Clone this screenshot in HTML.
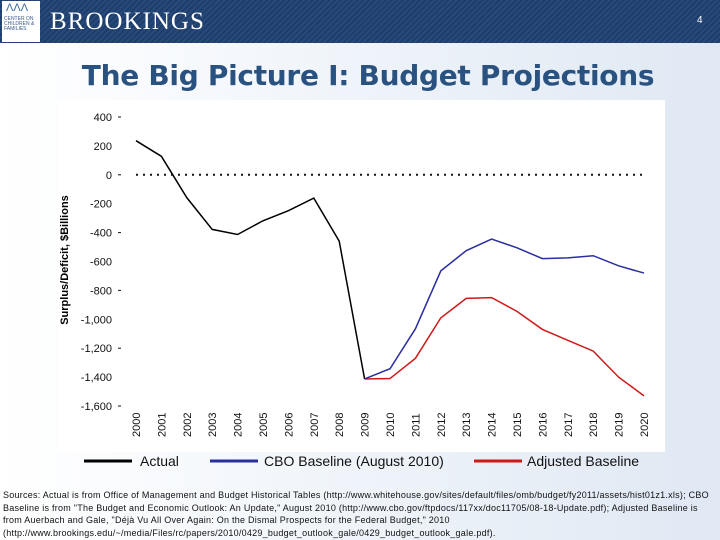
<!DOCTYPE html>
<html><head><meta charset="utf-8"><style>
body{margin:0;width:720px;height:540px;overflow:hidden;font-family:"Liberation Sans",sans-serif;background:linear-gradient(90deg,#ffffff 0%,#f2f6fb 40%,#dfe8f3 100%);position:relative}
#hdr{position:absolute;left:0;top:0;width:720px;height:43px;background:repeating-linear-gradient(135deg,#1e3d6c 0 2px,#284a7a 2px 4px)}
#logo{position:absolute;left:2px;top:1px;width:38px;height:41px;background:#fff;font-size:5px;color:#3a5a8a;line-height:5px}
#brand{position:absolute;left:50px;top:8px;font-family:"Liberation Serif",serif;font-size:25px;color:#fff;letter-spacing:1px}
#pg{position:absolute;left:697px;top:15px;font-size:10px;color:#fff}
#title{position:absolute;left:0;width:736px;top:59px;text-align:center;font-family:"DejaVu Sans",sans-serif;font-size:28px;font-weight:bold;color:#2a5280;letter-spacing:-0.3px}
#src{position:absolute;left:3px;top:489px;width:716px;font-size:9px;letter-spacing:0.25px;line-height:12.5px;color:#111}
</style></head><body>
<div id="hdr"></div>
<div id="logo"><div style="margin:5px 0 0 4px;font-size:11px;color:#3a6aa0">ΛΛΛ</div><div style="margin:6px 0 0 2px">CENTER ON<br>CHILDREN &amp;<br>FAMILIES</div></div>
<div id="brand">BROOKINGS</div>
<div id="pg">4</div>
<div id="title">The Big Picture I: Budget Projections</div>
<svg width="720" height="540" style="position:absolute;left:0;top:0" id="chart">
<rect x="58" y="100" width="607" height="352" fill="#fff"/>
<text transform="translate(68,260) rotate(-90)" text-anchor="middle" font-size="11" font-weight="bold" fill="#000">Surplus/Deficit, $Billions</text>
<g id="g"></g>
<g>
<line x1="84" y1="461" x2="132" y2="461" stroke="#000" stroke-width="3"/>
<text x="140" y="466" font-size="14" fill="#111">Actual</text>
<line x1="210" y1="461" x2="258" y2="461" stroke="#2a2ea0" stroke-width="3"/>
<text x="264" y="466" font-size="14" fill="#111">CBO Baseline (August 2010)</text>
<line x1="474" y1="461" x2="522" y2="461" stroke="#d01818" stroke-width="3"/>
<text x="527" y="466" font-size="14" fill="#111">Adjusted Baseline</text>
</g>
</svg>
<div id="src">Sources: Actual is from Office of Management and Budget Historical Tables (http://www.whitehouse.gov/sites/default/files/omb/budget/fy2011/assets/hist01z1.xls); CBO Baseline is from "The Budget and Economic Outlook: An Update," August 2010 (http://www.cbo.gov/ftpdocs/117xx/doc11705/08-18-Update.pdf); Adjusted Baseline is from Auerbach and Gale, "Déjà Vu All Over Again: On the Dismal Prospects for the Federal Budget," 2010<br>(http://www.brookings.edu/~/media/Files/rc/papers/2010/0429_budget_outlook_gale/0429_budget_outlook_gale.pdf).</div>
<script>
const years=[2000,2001,2002,2003,2004,2005,2006,2007,2008,2009,2010,2011,2012,2013,2014,2015,2016,2017,2018,2019,2020];
const actualYears=[2000,2001,2002,2003,2004,2005,2006,2007,2008,2009];
const actualVals=[236,128,-158,-378,-413,-318,-248,-161,-459,-1413];
const projYears=[2009,2010,2011,2012,2013,2014,2015,2016,2017,2018,2019,2020];
const cboVals=[-1413,-1342,-1066,-665,-525,-445,-505,-580,-575,-560,-630,-680];
const adjVals=[-1413,-1410,-1270,-990,-855,-850,-945,-1070,-1145,-1220,-1400,-1530];
const yTicks=[400,200,0,-200,-400,-600,-800,-1000,-1200,-1400,-1600];
const yTickLabels=["400","200","0","-200","-400","-600","-800","-1,000","-1,200","-1,400","-1,600"];
const NS="http://www.w3.org/2000/svg";
const g=document.getElementById('g');
function xs(yr){return 136+(yr-2000)*25.4;}
function ys(v){return 174.8-v*0.1445;}
function mk(t,a){const e=document.createElementNS(NS,t);for(const k in a)e.setAttribute(k,a[k]);g.appendChild(e);return e;}
yTicks.forEach((v,i)=>{
  const t=mk('text',{x:112,y:ys(v)+4,'text-anchor':'end','font-size':11,fill:'#111'});
  t.textContent=yTickLabels[i];
  
  
  if(i%2===0){const l=mk('line',{x1:118,x2:121,y1:ys(v),y2:ys(v),stroke:'#111'});
  
  }
});
years.forEach(yr=>{
  const t=mk('text',{transform:`translate(${xs(yr)+4},${437}) rotate(-90)`,'font-size':11,fill:'#111'});
  t.textContent=yr;
  
  
});
const z=mk('line',{x1:xs(2000),x2:xs(2020),y1:ys(0),y2:ys(0),stroke:'#111','stroke-width':2,'stroke-dasharray':'2,5'});


function series(xv,vals,col,name){
  const p=mk('polyline',{points:xv.map((x,i)=>xs(x)+','+ys(vals[i])).join(' '),fill:'none',stroke:col,'stroke-width':1.5});
  
  
}
series(actualYears,actualVals,'#000','actual-line');
series(projYears,adjVals,'#d01818','adjusted-baseline-line');
series(projYears,cboVals,'#2a2ea0','cbo-baseline-line');
</script>
</body></html>
